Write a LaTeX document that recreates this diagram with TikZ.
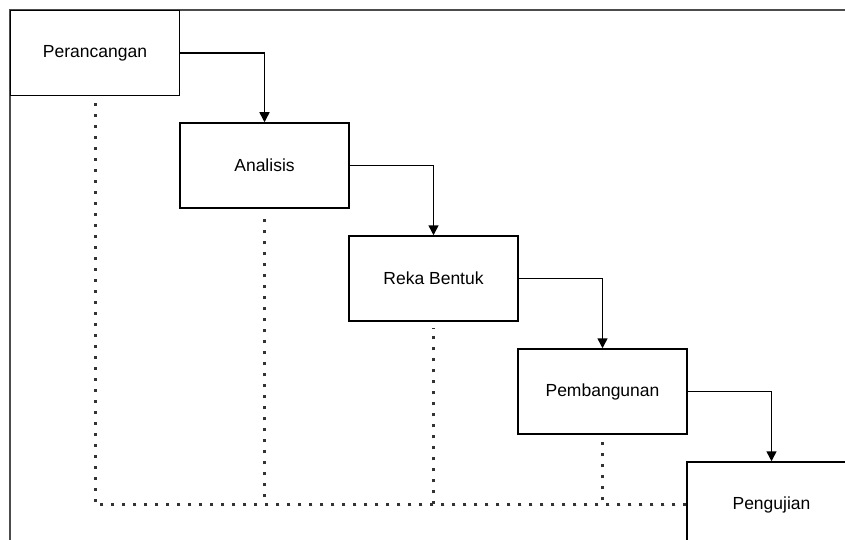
\documentclass[tikz,border=0pt]{standalone}
\usepackage{fontspec}
\setmainfont{Liberation Sans}
\usetikzlibrary{positioning,calc,arrows.meta}

\tikzset{
    stagebox/.style={draw, line width=1.5pt, fill=white, minimum width=169pt, minimum height=85pt, inner sep=0pt, font=\fontsize{17.5}{20}\selectfont},
    flowarrow/.style={line width=1.5pt, -{Triangle[width=10pt,length=10pt]}},
    dotline/.style={line width=3pt, line cap=butt, dash pattern=on 3pt off 8pt, black!80}
}

\begin{document}
\begin{tikzpicture}[x=1pt, y=-1pt]
        \useasboundingbox (0,0) rectangle (845,540);
        \clip (0,0) rectangle (845,540);

        % frame
        \draw[line width=1.5pt, black!70] (10,545) -- (10,10) -- (850,10);

        % stages
        \node[stagebox] (perancangan) at (95,53) {Perancangan};
        \node[stagebox] (analisis) at (264.5,165.5) {Analisis};
        \node[stagebox] (rekabentuk) at (433.5,278.5) {Reka Bentuk};
        \node[stagebox] (pembangunan) at (602.5,391.5) {Pembangunan};
        \node[stagebox] (pengujian) at (771.5,504.5) {Pengujian};

        % dotted links to the last stage
        \draw[dotline] (pengujian.west) -| ($(perancangan.south)+(0,6)$);
        \draw[dotline] (pengujian.west) -| ($(analisis.south)+(0,6)$);
        \draw[dotline] (pengujian.west) -| ($(rekabentuk.south)+(0,6)$);
        \draw[dotline] (pengujian.west) -| ($(pembangunan.south)+(0,6)$);

        % flow
        \draw[flowarrow] (perancangan.east) -| (analisis.north);
        \draw[flowarrow] (analisis.east) -| (rekabentuk.north);
        \draw[flowarrow] (rekabentuk.east) -| (pembangunan.north);
        \draw[flowarrow] (pembangunan.east) -| (pengujian.north);

    \end{tikzpicture}
\end{document}
